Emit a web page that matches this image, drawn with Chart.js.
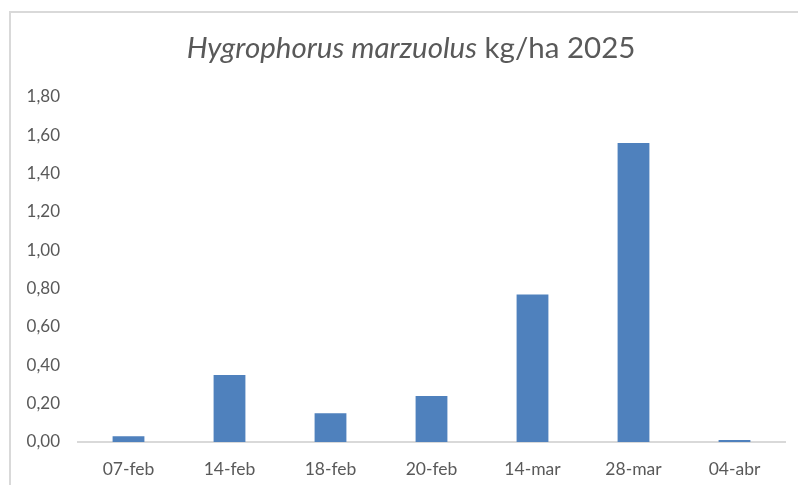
<!DOCTYPE html>
<html>
<head>
<meta charset="utf-8">
<script src="https://cdn.jsdelivr.net/npm/chart.js@4/dist/chart.umd.min.js"></script>
<style>
  html, body { margin: 0; padding: 0; background: #fff; }
  #wrap { position: relative; width: 798px; height: 485px; }
  #frame { position: absolute; left: 9px; top: 11px; right: -2px; bottom: -2px;
           border-left: 2px solid #d9d9d9; border-top: 2px solid #d9d9d9; }
  canvas { position: absolute; left: 0; top: 0; }
</style>
</head>
<body>
<div id="wrap">
  <div id="frame"></div>
  <canvas id="myChart" width="798" height="485"></canvas>
</div>
<script>
// data
const categories = ["07-feb", "14-feb", "18-feb", "20-feb", "14-mar", "28-mar", "04-abr"];
const kgPerHa = [0.03, 0.35, 0.15, 0.24, 0.77, 1.56, 0.01];
const yTicks = [0, 0.2, 0.4, 0.6, 0.8, 1.0, 1.2, 1.4, 1.6, 1.8];
const titleParts = [
  { text: "Hygrophorus marzuolus", italic: true },
  { text: " kg/ha 2025", italic: false }
];

const FONT = "Lato, 'Open Sans', sans-serif";
const GREY = "#595959";

// title with italic species name, chart.js title can't mix styles
const mixedTitle = {
  id: "mixedTitle",
  afterDraw(chart) {
    const ctx = chart.ctx;
    ctx.save();
    ctx.fillStyle = GREY;
    ctx.textBaseline = "alphabetic";
    const fonts = titleParts.map((p) => (p.italic ? "italic " : "") + "29.5px " + FONT);
    let total = 0;
    const widths = titleParts.map((p, i) => {
      ctx.font = fonts[i];
      const w = ctx.measureText(p.text).width;
      total += w;
      return w;
    });
    let x = 411 - total / 2;
    titleParts.forEach((p, i) => {
      ctx.font = fonts[i];
      ctx.fillText(p.text, x, 58);
      x += widths[i];
    });
    ctx.restore();
  }
};

var ctx = document.getElementById("myChart").getContext("2d");
var myChart = new Chart(ctx, {
  type: "bar",
  data: {
    labels: categories,
    datasets: [
      {
        data: kgPerHa,
        backgroundColor: "#4f81bd",
        borderWidth: 0,
        categoryPercentage: 1,
        barPercentage: 0.315,
      },
    ],
  },
  options: {
    responsive: false,
    animation: false,
    layout: { padding: { top: 97, right: 13, bottom: 0, left: 0 } },
    plugins: {
      legend: { display: false },
      title: { display: false },
      tooltip: { enabled: false },
    },
    scales: {
      x: {
        afterFit: (scale) => {
          scale.height = 43;
        },
        grid: { display: false },
        border: { display: true, color: "#d9d9d9", width: 2 },
        ticks: { color: GREY, font: { family: FONT, size: 17.5 }, padding: 9 },
      },
      y: {
        min: 0,
        max: 1.8,
        afterBuildTicks: (scale) => {
          scale.ticks = yTicks.map((v) => ({ value: v }));
        },
        afterFit: (scale) => {
          scale.width = 78;
        },
        grid: { display: false },
        border: { display: false },
        ticks: {
          color: GREY,
          font: { family: FONT, size: 17 },
          padding: 10,
          callback: (v) => v.toFixed(2).replace(".", ","),
        },
      },
    },
  },
  plugins: [mixedTitle],
});
</script>
</body>
</html>
